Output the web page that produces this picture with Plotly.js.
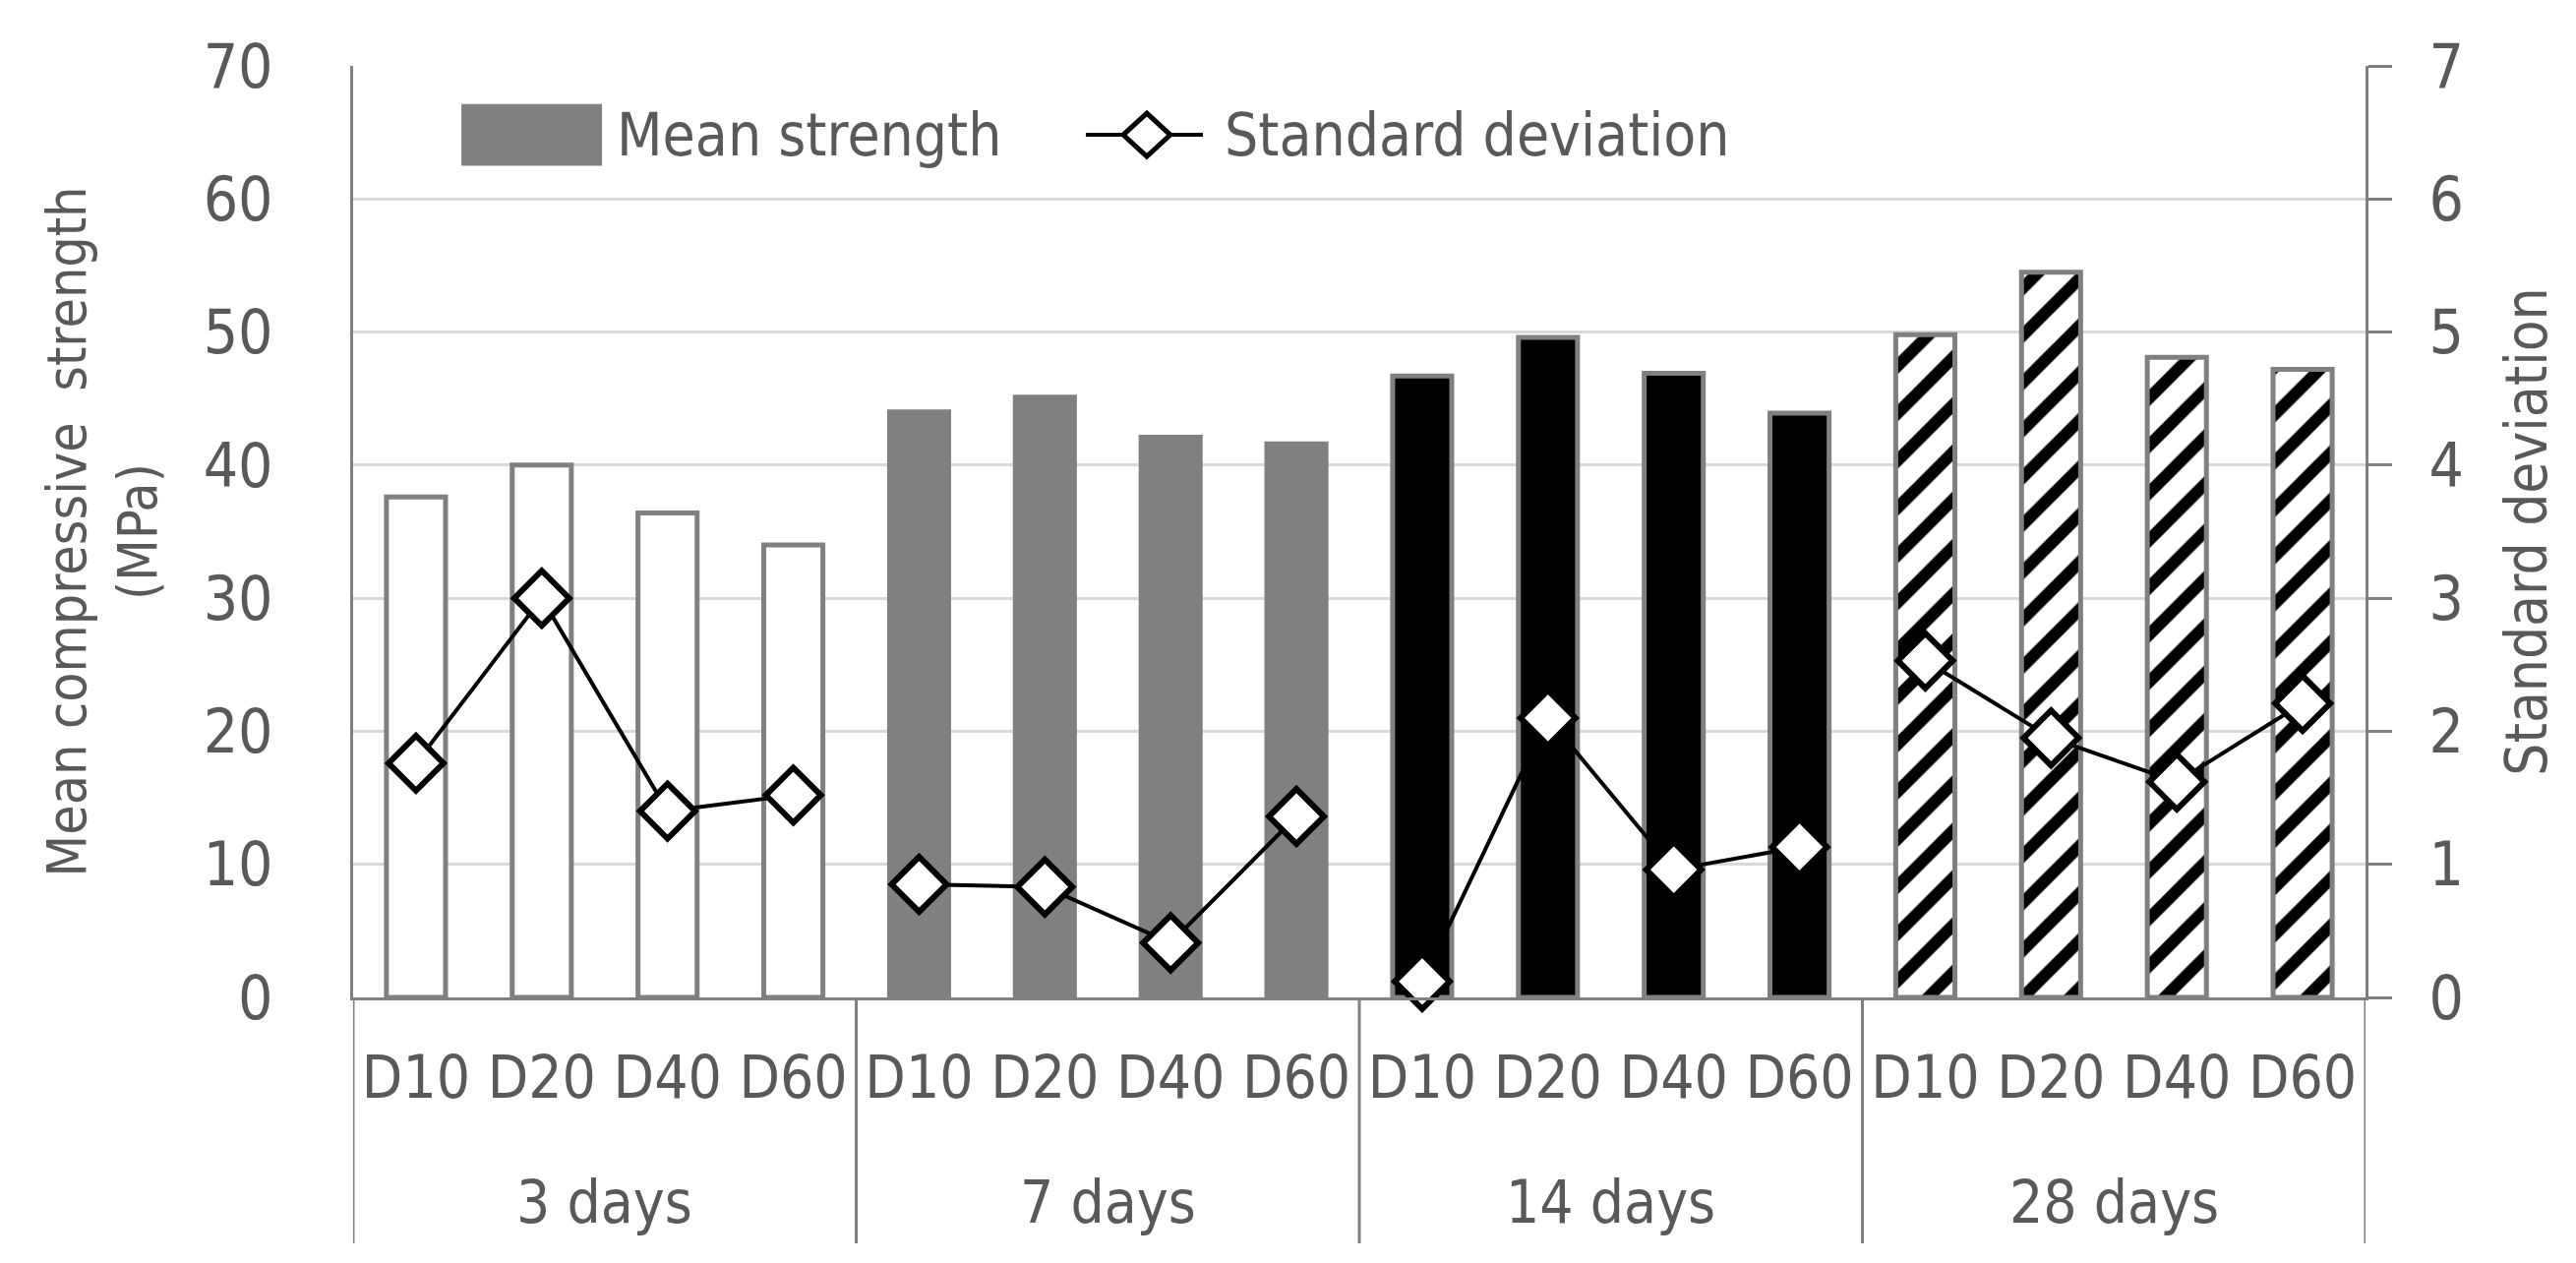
<!DOCTYPE html>
<html>
<head>
<meta charset="utf-8">
<script src="https://cdn.plot.ly/plotly-3.0.1.min.js"></script>
<style>html,body{margin:0;padding:0;background:#fff;}#chart{width:2619px;height:1284px;}</style>
</head>
<body>
<div id="chart"></div>
<script>
// ---- data ----
const ages = ["3 days", "7 days", "14 days", "28 days"];
const mixes = ["D10", "D20", "D40", "D60"];
const strength3 = [37.6, 40.0, 36.4, 34.0];
const strength7 = [44.0, 45.1, 42.1, 41.6];
const strength14 = [46.7, 49.6, 46.9, 43.9];
const strength28 = [49.8, 54.5, 48.1, 47.2];
const stdev3 = [1.76, 3.0, 1.40, 1.52];
const stdev7 = [0.85, 0.83, 0.41, 1.36];
const stdev14 = [0.12, 2.10, 0.96, 1.13];
const stdev28 = [2.53, 1.95, 1.62, 2.21];
const yLeftTitle = "Mean compressive  strength<br>(MPa)";
const yRightTitle = "Standard deviation";
const legendNames = ["Mean strength", "Standard deviation"];

const strengthByAge = [strength3, strength7, strength14, strength28];
const stdevByAge = [stdev3, stdev7, stdev14, stdev28];

const textColor = "#595959";
const axisGray = "#808080";
const fontFam = "DejaVu Sans Condensed, Liberation Sans Narrow, sans-serif";

const barStyles = [
  {color: "#ffffff", line: axisGray, pattern: null},
  {color: "#808080", line: "#808080", pattern: null},
  {color: "#000000", line: axisGray, pattern: null},
  {color: "#ffffff", line: axisGray, pattern: {shape: "/", fgcolor: "#000000", bgcolor: "#ffffff", size: 34, solidity: 0.36}}
];

// category keys (one per bar) and their displayed labels
const keysByAge = ages.map(age => mixes.map(m => age + " " + m));
const allKeys = [].concat(...keysByAge);
const allLabels = [].concat(...ages.map(() => mixes));

const traces = [];
ages.forEach((age, i) => {
  const marker = {color: barStyles[i].color, line: {color: barStyles[i].line, width: 5}};
  if (barStyles[i].pattern) marker.pattern = barStyles[i].pattern;
  traces.push({
    type: "bar",
    name: legendNames[0],
    x: keysByAge[i],
    y: strengthByAge[i],
    marker: marker,
    showlegend: false,
    yaxis: "y"
  });
});
ages.forEach((age, i) => {
  traces.push({
    type: "scatter",
    mode: "lines+markers",
    name: legendNames[1],
    x: keysByAge[i],
    y: stdevByAge[i],
    yaxis: "y2",
    line: {color: "#000000", width: 4},
    marker: {symbol: "diamond", size: 43, color: "#ffffff", line: {color: "#000000", width: 6}},
    showlegend: false,
    cliponaxis: false
  });
});

// group dividers below the axis and group labels
const n = mixes.length;
const shapes = [];
for (let g = 0; g <= ages.length; g++) {
  shapes.push({type: "line", xref: "x", yref: "paper", x0: g * n - 0.5, x1: g * n - 0.5, y0: 0, y1: -0.264,
               line: {color: axisGray, width: 3}});
}
const annotations = ages.map((age, i) => ({
  xref: "x", yref: "paper", x: i * n + (n - 1) / 2, y: -0.2196, xanchor: "center", yanchor: "middle",
  text: age, showarrow: false, font: {family: fontFam, size: 60, color: textColor}
}));

// legend (drawn manually to match the large swatches)
shapes.push(
  {type: "rect", xref: "paper", yref: "paper", x0: 0.0543, x1: 0.1232, y0: 0.894, y1: 0.958,
   fillcolor: "#808080", line: {color: "#808080", width: 2}},
  {type: "line", xref: "paper", yref: "paper", x0: 0.3641, x1: 0.4223, y0: 0.926, y1: 0.926,
   line: {color: "#000000", width: 4}},
  {type: "path", xref: "paper", yref: "paper",
   path: "M 0.3944 0.9492 L 0.4061 0.926 L 0.3944 0.9028 L 0.3827 0.926 Z",
   fillcolor: "#ffffff", line: {color: "#000000", width: 5}}
);
annotations.push(
  {xref: "paper", yref: "paper", x: 0.1300, y: 0.926, xanchor: "left", yanchor: "middle",
   text: legendNames[0], showarrow: false, font: {family: fontFam, size: 60, color: textColor}},
  {xref: "paper", yref: "paper", x: 0.4320, y: 0.926, xanchor: "left", yanchor: "middle",
   text: legendNames[1], showarrow: false, font: {family: fontFam, size: 60, color: textColor}}
);

const layout = {
  width: 2619,
  height: 1284,
  paper_bgcolor: "#ffffff",
  plot_bgcolor: "#ffffff",
  margin: {l: 359, r: 214, t: 67, b: 270},
  barmode: "overlay",
  bargap: 0.53,
  font: {family: fontFam, color: textColor, size: 60},
  showlegend: false,
  xaxis: {
    type: "category",
    categoryorder: "array", categoryarray: allKeys,
    tickvals: allKeys, ticktext: allLabels,
    range: [-0.5, allKeys.length - 0.5],
    showline: true, linecolor: axisGray, linewidth: 3,
    ticks: "", showgrid: false, ticklabelstandoff: 27,
    tickfont: {family: fontFam, size: 60, color: textColor}
  },
  yaxis: {
    range: [0, 70], dtick: 10,
    showline: true, linecolor: axisGray, linewidth: 3,
    showgrid: true, gridcolor: "#d9d9d9", gridwidth: 3,
    zeroline: false, ticks: "", ticklabelstandoff: 66,
    tickfont: {family: fontFam, size: 62, color: textColor},
    title: {text: yLeftTitle, font: {family: fontFam, size: 55, color: textColor}, standoff: 30}
  },
  yaxis2: {
    overlaying: "y", side: "right",
    range: [0, 7], dtick: 1,
    showline: true, linecolor: axisGray, linewidth: 3,
    showgrid: false, zeroline: false,
    ticks: "outside", ticklen: 24, tickwidth: 3, tickcolor: axisGray, ticklabelstandoff: 25,
    tickfont: {family: fontFam, size: 62, color: textColor},
    title: {text: yRightTitle, font: {family: fontFam, size: 58, color: textColor}, standoff: 45}
  },
  shapes: shapes,
  annotations: annotations
};

Plotly.newPlot("chart", traces, layout, {displayModeBar: false, staticPlot: true});
</script>
</body>
</html>
